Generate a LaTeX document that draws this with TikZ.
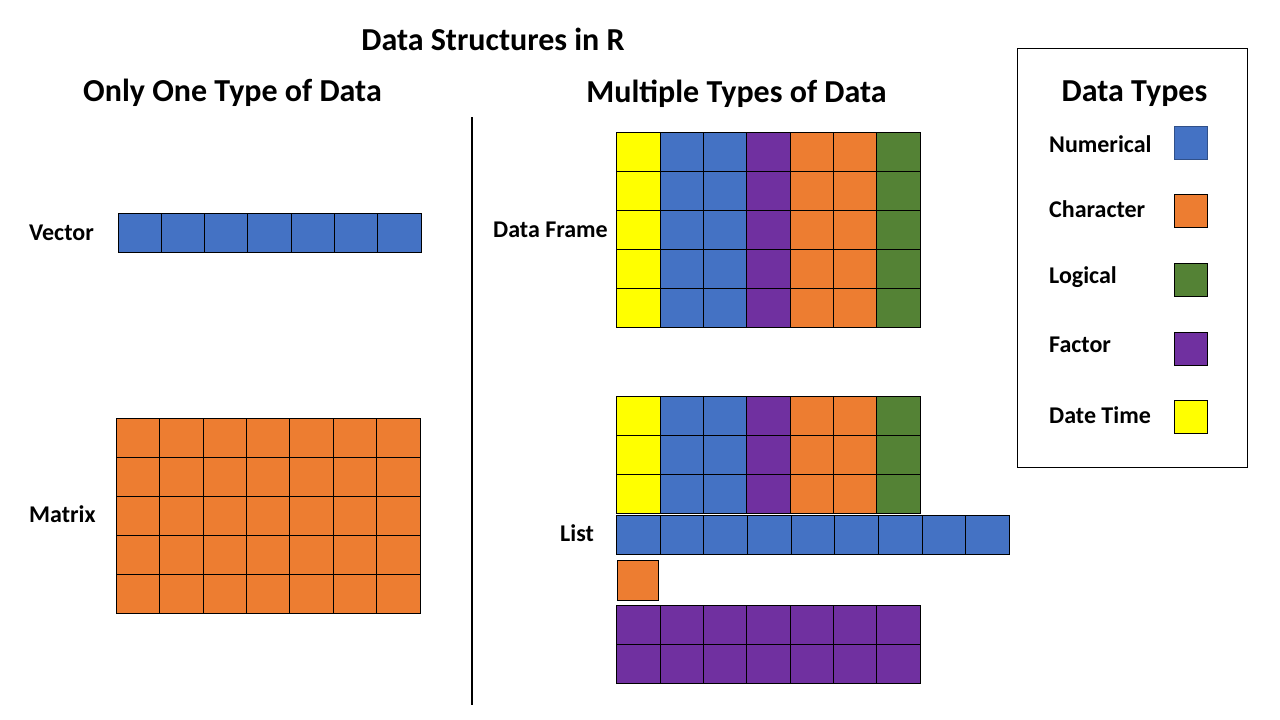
\documentclass[tikz,border=0pt]{standalone}
\usepackage{fontspec}
\setmainfont{Carlito}
\definecolor{numblue}{HTML}{4472C4}
\definecolor{chrorange}{HTML}{ED7D31}
\definecolor{loggreen}{HTML}{548235}
\definecolor{facpurple}{HTML}{7030A0}
\definecolor{dtyellow}{HTML}{FFFF00}
\begin{document}
\begin{tikzpicture}[x=1pt,y=-1pt]
\tikzset{
  cellline/.style={draw=black, line width=1pt},
  title/.style={font=\fontsize{32}{38}\selectfont\bfseries, inner sep=0pt},
  heading/.style={font=\fontsize{32}{38}\selectfont\bfseries, inner sep=0pt},
  label/.style={font=\fontsize{24}{28}\selectfont\bfseries, inner sep=0pt, anchor=west},
  swatch/.style={draw=black, line width=1pt, minimum width=33.5pt, minimum height=33pt, inner sep=0pt},
}
\useasboundingbox (0,0) rectangle (1280,720);
\fill[white] (0,0) rectangle (1280,720);

% titles
\node[title] (maintitle) at (493,39) {Data Structures in R};
\node[heading] (onetype) at (232.5,93) {Only One Type of Data};
\node[heading] (multitype) at (736.5,94) {Multiple Types of Data};

% divider
\coordinate (divtop) at (472,117);
\coordinate (divbot) at (472,705);
\draw[line width=1.5pt] (divtop) -- (divbot);

% vector
\node[label] (veclabel) at (29,233) {Vector};
\foreach \i in {0,...,6}{
  \filldraw[fill=numblue, cellline] (118+\i*43.33,213.3) rectangle ++(43.33,39);
}

% matrix
\node[label] (matlabel) at (29,514) {Matrix};
\foreach \i in {0,...,6}{
  \foreach \j in {0,...,4}{
    \filldraw[fill=chrorange, cellline] (116.5+\i*43.36,418.3+\j*39) rectangle ++(43.36,39);
  }
}

% data frame
\node[label] (dflabel) at (493,230) {Data Frame};
\foreach \c [count=\i from 0] in {dtyellow,numblue,numblue,facpurple,chrorange,chrorange,loggreen}{
  \foreach \j in {0,...,4}{
    \filldraw[fill=\c, cellline] (616.7+\i*43.33,132.3+\j*39) rectangle ++(43.33,39);
  }
}

% list
\node[label] (listlabel) at (560,533) {List};
\foreach \c [count=\i from 0] in {dtyellow,numblue,numblue,facpurple,chrorange,chrorange,loggreen}{
  \foreach \j in {0,...,2}{
    \filldraw[fill=\c, cellline] (616.7+\i*43.33,396+\j*39.1) rectangle ++(43.33,39.1);
  }
}
\foreach \i in {0,...,8}{
  \filldraw[fill=numblue, cellline] (616.7+\i*43.62,515) rectangle ++(43.62,39.3);
}
\filldraw[fill=chrorange, cellline] (617.3,560.3) rectangle (658.7,600.3);
\foreach \i in {0,...,6}{
  \foreach \j in {0,...,1}{
    \filldraw[fill=facpurple, cellline] (616.7+\i*43.33,605.3+\j*39) rectangle ++(43.33,39);
  }
}

% legend
\node[draw=black, line width=1.2pt, minimum width=230.4pt, minimum height=419pt, inner sep=0pt] (legend) at (1132.5,257.8) {};
\node[heading] (legtitle) at (1134.5,94) {Data Types};
\node[label] (lnum) at (1049,144) {Numerical};
\node[label] (lchr) at (1049,209) {Character};
\node[label] (llog) at (1049,277) {Logical};
\node[label] (lfac) at (1049,345) {Factor};
\node[label] (ldt) at (1049,415) {Date Time};
\node[swatch, fill=numblue, draw=numblue!70!black] (snum) at (1190.8,142.8) {};
\node[swatch, fill=chrorange] (schr) at (1190.8,210.8) {};
\node[swatch, fill=loggreen] (slog) at (1190.8,279.8) {};
\node[swatch, fill=facpurple] (sfac) at (1190.8,348.8) {};
\node[swatch, fill=dtyellow] (sdt) at (1190.8,416.8) {};
\end{tikzpicture}
\end{document}
